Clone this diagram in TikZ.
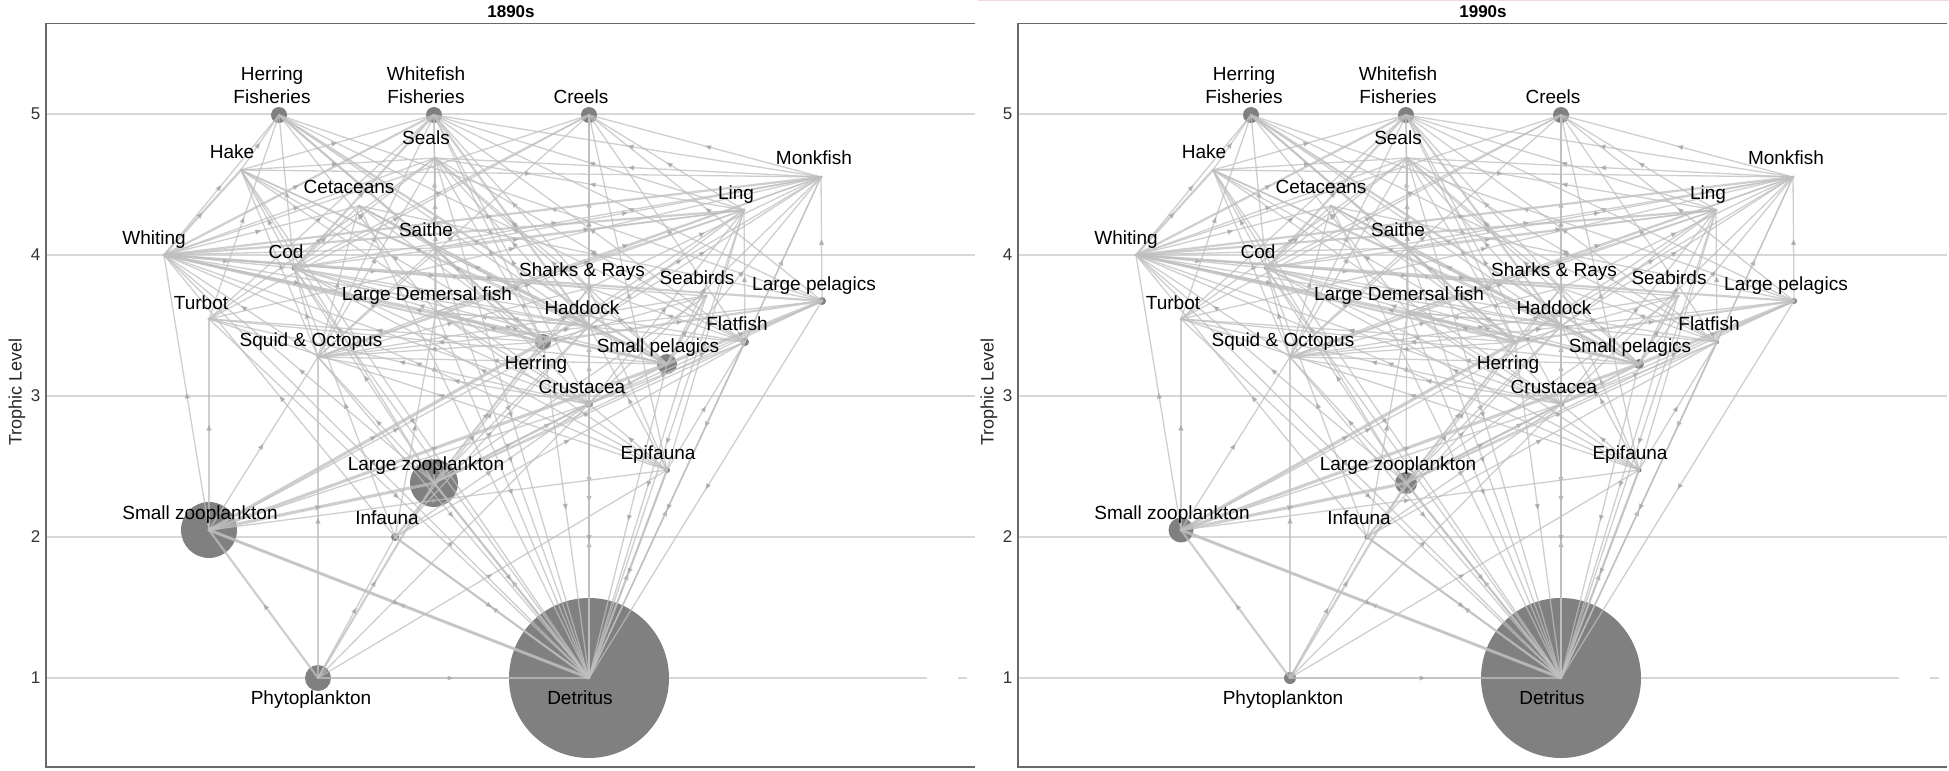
\documentclass[tikz,border=0pt]{standalone}
\usepackage{fontspec}
\setmainfont{Liberation Sans}
\usetikzlibrary{arrows.meta,decorations.markings}
\definecolor{edgec}{RGB}{190,190,190}
\definecolor{arrc}{RGB}{170,170,170}
\definecolor{nodec}{RGB}{128,128,128}
\definecolor{gridc}{RGB}{215,215,215}
\definecolor{boxc}{RGB}{105,105,105}
\definecolor{pinkc}{RGB}{240,215,222}
\tikzset{
  web/.style={draw=edgec, draw opacity=0.75, line cap=round, postaction={decorate},
    decoration={markings, mark=at position 0.5 with {\arrow[color=arrc]{Triangle[length=3pt,width=2.4pt]}}}},
  dot/.style={circle, fill=nodec, draw=none, inner sep=0pt},
  lab/.style={font=\fontsize{9.5}{11.5}\selectfont, inner sep=0pt, align=center, text=black},
  ticklab/.style={font=\fontsize{8.5}{10}\selectfont, inner sep=0pt, text=black!80},
  axlab/.style={font=\fontsize{9}{11}\selectfont, inner sep=0pt, rotate=90, text=black!85},
  ttl/.style={font=\fontsize{8.5}{10}\selectfont\bfseries, inner sep=0pt},
  gridln/.style={draw=gridc, line width=0.75pt},
  boxln/.style={draw=boxc, line width=0.7pt}
}
\newcommand\foodweb[3]{%
\begin{scope}[shift={(#2,0)}]
  % grid and axes
  \foreach \lv/\yy in {5/114,4/255,3/396,2/537} {
    \draw[gridln] (46,\yy) -- (975,\yy);
    \node[ticklab] at (35.5,\yy) {\lv};
  }
  \draw[gridln] (46,678) -- (927,678);
  \draw[gridln] (958,678) -- (967,678);
  \node[ticklab] at (35.5,678) {1};
  \draw[boxln] (975,23.5) -- (46,23.5) -- (46,767) -- (975,767);
  \node[axlab] at (17,392) {Trophic Level};
  % nodes
  \foreach \n/\x/\y/\ra/\rb in {HF/279/115/8/8, WF/434/115/8/8, CR/589/115/8/8,
    SE/435/158/1.5/1.5, HA/241/170/1.5/1.5, MO/821/177/1.5/1.5, CE/359/206/1.5/1.5,
    LI/744/210/1.5/1.5, SA/435/248/1.5/1.5, WH/164/255/1.5/1.5, CO/294/268/2.5/2,
    SR/589/288/2.5/2, SB/706/296/1.5/1.5, LP/822/301/4/3, LD/436/312/1.5/1.5,
    TU/209/319/1.5/1.5, HD/589/326/2/1.5, FL/745/342/4/2, SQ/318/357/1.5/1.5,
    HE/543/342/8/2, SP/667/364/10/5, CU/589/404/4/3, EP/667/470/3/2.5,
    LZ/434/483/24/11, SZ/209/530/28/12.5, IN/395/537/4/2.5, PH/318/678/13/6,
    DE/589/678/80/80} {
    \pgfmathsetmacro\rr{#3==1 ? \ra : \rb}
    \node[dot, minimum size=\rr pt] (#1\n) at (\x,\y) {};
  }
  % connectors (prey -> predator)
  \foreach \a/\b/\w in {HE/HF/2,SP/HF/2,WH/HF/1,HA/HF/1,CO/HF/1,SA/HF/1,HD/HF/1,LD/HF/1,TU/HF/1,LP/HF/1,FL/HF/1,
    WH/WF/2,CO/WF/2,HD/WF/2,SA/WF/1,HA/WF/1,LD/WF/1,SR/WF/1,FL/WF/1,TU/WF/1,LI/WF/1,MO/WF/1,SQ/WF/1,HE/WF/1,LP/WF/1,CU/WF/1,
    CU/CR/2,SQ/CR/1,MO/CR/1,LI/CR/1,WH/CR/1,CO/CR/1,TU/CR/1,SR/CR/1,HD/CR/1,FL/CR/1,EP/CR/1,LP/CR/1,
    WH/SE/1,CO/SE/1,HA/SE/1,SA/SE/1,HD/SE/1,HE/SE/1,SP/SE/1,FL/SE/1,SQ/SE/1,LD/SE/1,SR/SE/1,LI/SE/1,MO/SE/1,TU/SE/1,
    HE/CE/1,SP/CE/1,WH/CE/1,SQ/CE/1,HD/CE/1,CO/CE/1,SA/CE/1,LP/CE/1,
    WH/HA/2,HE/HA/1,SP/HA/1,SQ/HA/1,HD/HA/1,CU/HA/1,LZ/HA/1,CO/HA/1,
    WH/MO/2,HD/MO/1,FL/MO/1,SP/MO/1,HE/MO/1,CU/MO/1,SQ/MO/1,CO/MO/1,LD/MO/1,SR/MO/1,TU/MO/1,SA/MO/1,HA/MO/1,LP/MO/1,
    WH/LI/2,HD/LI/1,FL/LI/1,SP/LI/1,CU/LI/1,SQ/LI/1,EP/LI/1,HE/LI/1,CO/LI/1,LD/LI/1,SA/LI/1,
    HE/SA/1,SP/SA/1,WH/SA/1,LZ/SA/1,CU/SA/1,SQ/SA/1,HD/SA/1,
    HE/WH/2,SP/WH/2,LZ/WH/1,CU/WH/1,SQ/WH/1,IN/WH/1,EP/WH/1,HD/WH/1,SZ/WH/1,
    WH/CO/1,HD/CO/1,HE/CO/1,SP/CO/1,CU/CO/1,EP/CO/1,IN/CO/1,FL/CO/1,SQ/CO/1,LZ/CO/1,
    CU/SR/1,EP/SR/1,FL/SR/1,HD/SR/1,WH/SR/1,SP/SR/1,IN/SR/1,SQ/SR/1,HE/SR/1,
    SP/SB/2,HE/SB/1,WH/SB/1,LZ/SB/1,SQ/SB/1,
    SP/LP/3,HE/LP/2,SQ/LP/1,LZ/LP/1,WH/LP/2,CU/LP/1,
    CU/LD/1,EP/LD/1,IN/LD/1,SP/LD/1,HE/LD/1,WH/LD/1,HD/LD/1,SQ/LD/1,FL/LD/1,
    SP/TU/1,HE/TU/1,CU/TU/1,SZ/TU/1,EP/TU/1,
    CU/HD/1,EP/HD/1,IN/HD/1,LZ/HD/1,SP/HD/1,SZ/HD/1,
    IN/FL/1,EP/FL/1,CU/FL/1,LZ/FL/1,DE/FL/1,
    SP/SQ/1,HE/SQ/1,CU/SQ/1,LZ/SQ/1,SZ/SQ/1,PH/SQ/1,
    LZ/HE/2,SZ/HE/3,LZ/SP/2,SZ/SP/3,
    DE/CU/2,IN/CU/1,EP/CU/1,LZ/CU/1,PH/CU/1,SZ/CU/1,
    DE/EP/2,PH/EP/1,SZ/EP/1,
    SZ/LZ/3,PH/LZ/2,DE/LZ/1,
    PH/SZ/2,DE/SZ/1,
    DE/IN/2,PH/IN/1,
    SE/DE/1,HA/DE/1,CE/DE/1,MO/DE/1,LI/DE/1,SA/DE/1,WH/DE/1,CO/DE/1,SR/DE/1,SB/DE/1,LP/DE/1,LD/DE/1,
    TU/DE/1,HD/DE/1,FL/DE/1,SQ/DE/1,HE/DE/1,SP/DE/1,CU/DE/1,EP/DE/1,LZ/DE/2,SZ/DE/3,IN/DE/1,PH/DE/2} {
    \pgfmathsetmacro\lw{0.65+(\w-1)*0.45}
    \draw[web, line width=\lw pt] (#1\a.center) -- (#1\b.center);
  }
  % labels
  \foreach \n/\lx/\ly/\t in {HF/272/96/{Herring\\Fisheries}, WF/426/96/{Whitefish\\Fisheries},
    CR/581/96/Creels, SE/426/137/Seals, HA/232/151/Hake, MO/814/157/Monkfish,
    CE/349/186/Cetaceans, LI/736/192/Ling, SA/426/229/Saithe, WH/154/237/Whiting,
    CO/286/251/Cod, SR/582/269/{Sharks \& Rays}, SB/697/277/Seabirds,
    LP/814/283/{Large pelagics}, LD/427/293/{Large Demersal fish}, TU/201/302/Turbot,
    HD/582/307/Haddock, FL/737/323/Flatfish, SQ/311/339/{Squid \& Octopus},
    HE/536/362/Herring, SP/658/345/{Small pelagics}, CU/582/386/Crustacea,
    EP/658/452/Epifauna, LZ/426/463/{Large zooplankton}, SZ/200/512/{Small zooplankton},
    IN/387/517/Infauna, PH/311/697/Phytoplankton, DE/580/697/Detritus} {
    \node[lab, anchor=base] (#1\n-t) at (\lx,\ly+7) {\t};
  }
\end{scope}
}
\begin{document}
\begin{tikzpicture}[x=0.5pt, y=-0.5pt]
  \useasboundingbox (0,0) rectangle (1949,771);
  \draw[pinkc, line width=0.6pt] (978,0.7) -- (1949,0.7);
  \foodweb{L}{0}{1}
  \foodweb{R}{972}{2}
  \node[ttl] (t1) at (511,12) {1890s};
  \node[ttl] (t2) at (1483,12) {1990s};
\end{tikzpicture}
\end{document}
